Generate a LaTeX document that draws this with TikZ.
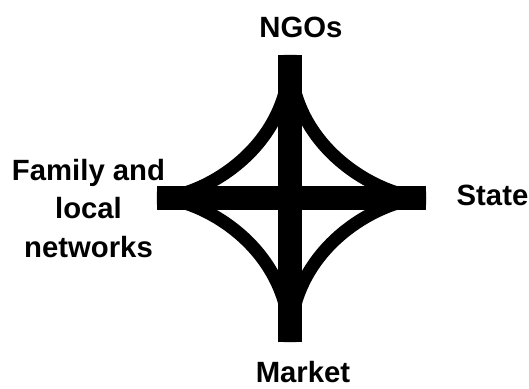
\documentclass[tikz,border=0pt]{standalone}
\usepackage{fontspec}
\setmainfont{Liberation Sans}

\begin{document}
\begin{tikzpicture}[x=1pt, y=-1pt,
  every node/.style={font=\bfseries\fontsize{29.3}{38.5}\selectfont, align=center, inner sep=0pt},
  bar/.style={line width=24pt},
  arc/.style={line width=13pt}]
  \useasboundingbox (0,0) rectangle (529,388);
  \coordinate (top) at (290,55);
  \coordinate (bottom) at (290,342);
  \coordinate (left) at (157,198);
  \coordinate (right) at (426,198);

  \draw[bar] (top) -- (bottom);
  \draw[bar] (left) -- (right);
  \draw[arc] (top) .. controls (290,150) and (200,198) .. (left);
  \draw[arc] (top) .. controls (290,150) and (382,198) .. (right);
  \draw[arc] (bottom) .. controls (290,246) and (200,198) .. (left);
  \draw[arc] (bottom) .. controls (290,246) and (382,198) .. (right);

  \node (ngos) [anchor=base] at (301,37) {NGOs};
  \node (state) [anchor=base] at (492.5,205) {State};
  \node (market) [anchor=base] at (303,382) {Market};
  \node (family) [anchor=base] at (88.5,257) {Family and\\local\\networks};
\end{tikzpicture}
\end{document}
